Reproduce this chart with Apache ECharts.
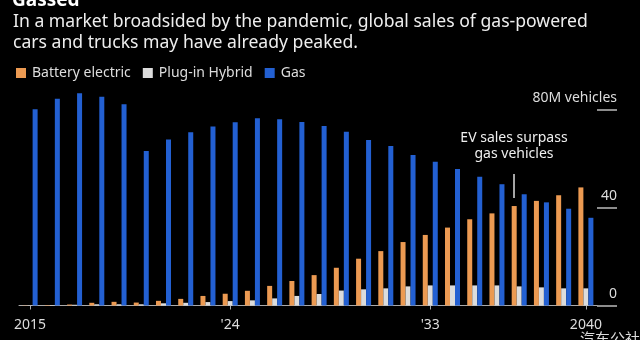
<!DOCTYPE html>
<html>
<head>
<meta charset="utf-8">
<script src="https://cdn.jsdelivr.net/npm/echarts@6/dist/echarts.min.js"></script>
<style>
  html, body { margin: 0; padding: 0; background: #000; }
  #chart { width: 640px; height: 340px; }
</style>
</head>
<body>
<div id="chart"></div>
<script>
// years 2015..2040
const years = [
  '2015', '2016', '2017', '2018', '2019', '2020', '2021', '2022', '2023',
  '2024', '2025', '2026', '2027', '2028', '2029', '2030', '2031', '2032',
  '2033', '2034', '2035', '2036', '2037', '2038', '2039', '2040',
];
// which years get a tick + label, and how they read
const yearLabels = { 0: '2015', 9: "'24", 18: "'33", 25: '2040' };

// millions of vehicles
const batteryElectric = [
  0.1, 0.2, 0.4, 1.1, 1.5, 1.2, 1.9, 2.7, 3.9, 4.8, 6.0, 8.0, 10.0,
  12.4, 15.4, 19.1, 22.2, 25.9, 28.8, 31.8, 35.2, 37.6, 40.6, 42.7, 45.0, 48.2,
];
const plugInHybrid = [
  0.1, 0.2, 0.3, 0.5, 0.5, 0.5, 0.9, 1.1, 1.4, 1.8, 2.1, 2.9, 3.9,
  4.7, 6.1, 6.6, 7.0, 7.8, 8.2, 8.2, 8.2, 8.2, 7.8, 7.4, 7.0, 7.0,
];
const gas = [
  80.1, 84.4, 86.6, 85.2, 82.1, 63.1, 67.8, 70.7, 73.1, 74.8, 76.4, 76.0, 74.9,
  73.3, 70.9, 67.6, 65.1, 61.4, 58.7, 55.7, 52.6, 49.5, 45.4, 42.1, 39.5, 35.8,
];
const yTicks = [0, 40, 80];

const chart = echarts.init(document.getElementById('chart'));
const font = '"Noto Sans", sans-serif';
const showTick = (i) => yearLabels[i] !== undefined;

const barSeries = (name, color, data) => ({
  name,
  type: 'bar',
  barWidth: 5,
  barGap: '0%',
  clip: false,
  itemStyle: { color },
  emphasis: { disabled: true },
  data,
});

chart.setOption({
  backgroundColor: '#000',
  animation: false,
  title: [
    {
      text: 'Gassed',
      left: 12,
      top: -9,
      padding: 0,
      textStyle: { color: '#fff', fontSize: 19, fontWeight: 'bold', fontFamily: font },
    },
    {
      text: 'In a market broadsided by the pandemic, global sales of gas-powered\ncars and trucks may have already peaked.',
      left: 13,
      top: 11,
      padding: 0,
      textStyle: { color: '#eee', fontSize: 17.6, fontWeight: 'normal', lineHeight: 21.5, fontFamily: font },
    },
  ],
  legend: {
    left: 16,
    top: 66,
    padding: 0,
    icon: 'rect',
    itemWidth: 10,
    itemHeight: 10,
    itemGap: 12,
    selectedMode: false,
    textStyle: { color: '#ddd', fontSize: 14, fontFamily: font, padding: [0, 0, 0, 1] },
    data: ['Battery electric', 'Plug-in Hybrid', 'Gas'],
  },
  grid: { left: 19, right: 43, top: 109.5, bottom: 34.5 },
  xAxis: {
    type: 'category',
    data: years,
    axisLine: { lineStyle: { color: '#aaa', width: 1 } },
    axisTick: { show: true, alignWithLabel: true, interval: showTick, length: 4, lineStyle: { color: '#aaa' } },
    axisLabel: {
      interval: showTick,
      formatter: (v, i) => yearLabels[i] || '',
      color: '#ddd',
      fontSize: 14,
      fontFamily: font,
      margin: 13,
    },
  },
  yAxis: {
    type: 'value',
    position: 'right',
    min: yTicks[0],
    max: yTicks[yTicks.length - 1],
    interval: 40,
    splitLine: { show: false },
    axisLine: { show: false },
    axisTick: { show: true, length: 20, lineStyle: { color: '#bbb', width: 1.5 } },
    axisLabel: {
      margin: 20,
      align: 'right',
      verticalAlign: 'bottom',
      padding: [0, 0, 4, 0],
      color: '#ddd',
      fontSize: 14,
      fontFamily: font,
      formatter: (v) => (v === 80 ? '80M vehicles' : String(v)),
    },
  },
  series: [
    barSeries('Battery electric', '#ec9a52', batteryElectric),
    barSeries('Plug-in Hybrid', '#dcdcdc', plugInHybrid),
    barSeries('Gas', '#2360d2', gas),
  ],
  graphic: [
    {
      type: 'text',
      x: 514,
      y: 130,
      style: {
        text: 'EV sales surpass\ngas vehicles',
        fill: '#eee',
        font: '14px "Noto Sans", sans-serif',
        align: 'center',
        lineHeight: 16,
      },
    },
    {
      type: 'line',
      shape: { x1: 514, y1: 174, x2: 514, y2: 198 },
      style: { stroke: '#ddd', lineWidth: 1.5 },
    },
    {
      type: 'text',
      x: 580,
      y: 331,
      style: { text: '汽车公社', fill: '#ddd', font: '15px "Noto Sans CJK SC", sans-serif' },
    },
  ],
});
</script>
</body>
</html>
